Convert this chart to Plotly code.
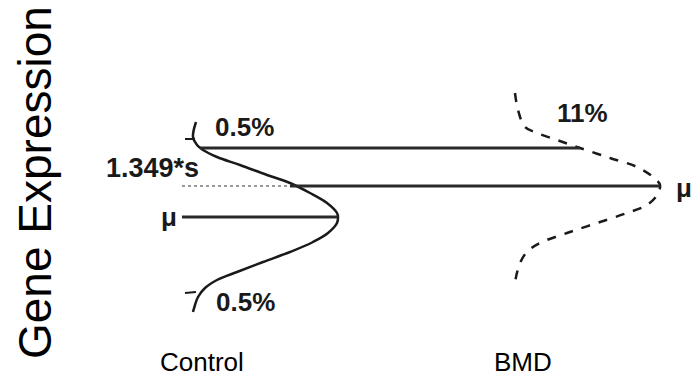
import plotly.graph_objects as go

# Pixel-like coordinate system (x right, y down)
control_x = [196, 193, 197, 203, 217, 240, 267, 290, 310, 327, 337, 338, 337, 328, 313, 290, 263, 237, 217, 205, 198, 195, 193]
control_y = [122, 137, 145, 150, 157, 165, 175, 183, 193, 203, 213, 217, 223, 233, 242, 252, 262, 272, 280, 288, 297, 305, 312]

bmd_x = [515, 518, 525, 537, 557, 580, 610, 637, 653, 660, 657, 647, 627, 597, 567, 540, 527, 520, 515]
bmd_y = [93, 110, 127, 133, 140, 148, 158, 167, 177, 185, 195, 205, 213, 223, 233, 243, 252, 263, 282]

tick_top_x = [185, 195]
tick_top_y = [139, 139]
tick_bot_x = [185, 196]
tick_bot_y = [293, 292]

# horizontal reference lines: (x_start, x_end, y)
upper_line = [200, 580, 148]
mid_dotted = [182, 290, 186]
mid_solid = [290, 660, 186]
mu_line = [182, 338, 217]

labels = ["0.5%", "1.349*s", "μ", "0.5%", "11%", "μ"]
label_x = [244, 152, 169, 245, 582, 684]
label_y = [127, 168, 217, 302, 113, 188]

group_labels = ["Control", "BMD"]
group_x = [202, 523]
group_y = [362, 362]

fig = go.Figure()

black = "#1a1a1a"

fig.add_trace(go.Scatter(x=control_x, y=control_y, mode="lines",
                         line=dict(color=black, width=2.5, shape="spline"), hoverinfo="skip"))
fig.add_trace(go.Scatter(x=bmd_x, y=bmd_y, mode="lines",
                         line=dict(color=black, width=2.5, dash="dash", shape="spline"), hoverinfo="skip"))
for tx, ty in [(tick_top_x, tick_top_y), (tick_bot_x, tick_bot_y)]:
    fig.add_trace(go.Scatter(x=tx, y=ty, mode="lines", line=dict(color=black, width=2), hoverinfo="skip"))

for seg, col, dash, w in [(upper_line, "#2a2a2a", "solid", 3),
                          (mid_solid, "#2a2a2a", "solid", 3),
                          (mu_line, "#2a2a2a", "solid", 3),
                          (mid_dotted, "#999999", "dot", 2)]:
    fig.add_trace(go.Scatter(x=[seg[0], seg[1]], y=[seg[2], seg[2]], mode="lines",
                             line=dict(color=col, width=w, dash=dash), hoverinfo="skip"))

label_sizes = [26, 27, 26, 26, 26, 26]
for t, x, y, s in zip(labels, label_x, label_y, label_sizes):
    fig.add_annotation(x=x, y=y, text="<b>%s</b>" % t, showarrow=False,
                       font=dict(family="Liberation Sans, Arial", size=s, color=black),
                       xanchor="center", yanchor="middle")

for t, x, y in zip(group_labels, group_x, group_y):
    fig.add_annotation(x=x, y=y, text=t, showarrow=False,
                       font=dict(family="Liberation Sans, Arial", size=26, color="#000"),
                       xanchor="center", yanchor="middle")

fig.add_annotation(x=35, y=183, text="Gene Expression", showarrow=False, textangle=-90,
                   font=dict(family="Liberation Sans, Arial", size=46, color="#000"),
                   xanchor="center", yanchor="middle")

fig.update_layout(
    width=700, height=380,
    margin=dict(l=0, r=0, t=0, b=0),
    paper_bgcolor="white", plot_bgcolor="white",
    showlegend=False,
    xaxis=dict(range=[0, 700], visible=False, fixedrange=True),
    yaxis=dict(range=[380, 0], visible=False, fixedrange=True),
)

fig.write_html("out.html", config={"displayModeBar": False},
               post_script="document.body.style.margin='0';document.body.style.padding='0';")
